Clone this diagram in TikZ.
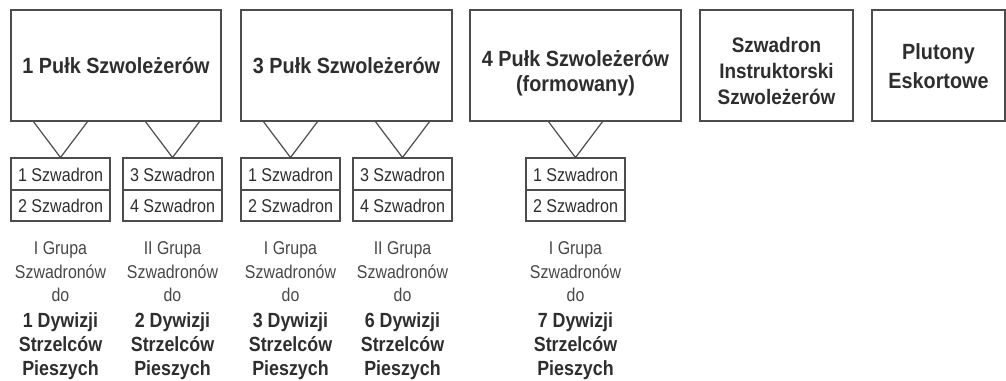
\documentclass[tikz,border=0pt]{standalone}
\usepackage{fontspec}
\setmainfont{Liberation Sans}
\newfontfamily\ttlfont[FakeStretch=0.9]{Liberation Sans}
\newfontfamily\sqfont[FakeStretch=0.87]{Liberation Sans}
\newfontfamily\grpfont[FakeStretch=0.86]{Liberation Sans}
\newfontfamily\divfont[FakeStretch=0.87]{Liberation Sans}
\begin{document}
\begin{tikzpicture}[x=1pt,y=-1pt,
  line cap=butt,
  every node/.style={text=black!82},
  regbox/.style={draw=black!70,line width=1.2pt,fill=white},
  ttl/.style={font=\ttlfont\bfseries\fontsize{22}{25}\selectfont,align=center},
  sq/.style={font=\sqfont\fontsize{18.5}{18}\selectfont,inner sep=0pt},
  link/.style={draw=black!70,line width=1.2pt},
  reg/.style={align=center,inner sep=0pt,text=black!72,font=\grpfont\fontsize{18.5}{23.5}\selectfont},
  bld/.style={align=center,inner sep=0pt,font=\divfont\bfseries\fontsize{20.5}{24}\selectfont}]
\useasboundingbox (0,0) rectangle (1006,380);
% regiment boxes
\draw[regbox] (11,10) rectangle (221,121);
\node[ttl] (p1) at (116,65.5) {1 Pułk Szwoleżerów};
\draw[regbox] (241,10) rectangle (452,121);
\node[ttl] (p3) at (346.5,65.5) {3 Pułk Szwoleżerów};
\draw[regbox] (470,10) rectangle (681,121);
\node[ttl] (p4) at (575.5,73) {4 Pułk Szwoleżerów\\(formowany)};
\draw[regbox] (700,10) rectangle (853,121);
\node[ttl,font=\ttlfont\bfseries\fontsize{21}{26}\selectfont] (si) at (776.5,71) {Szwadron\\Instruktorski\\Szwoleżerów};
\draw[regbox] (872,10) rectangle (1005,121);
\node[ttl,font=\ttlfont\bfseries\fontsize{22}{29}\selectfont] (pe) at (938.5,66) {Plutony\\Eskortowe};
% triangles and squadron boxes
\foreach \c/\a/\b/\n in {60.5/1/2/a,172.5/3/4/b,290.5/1/2/c,402.5/3/4/d,575.5/1/2/e}{
  \coordinate (t\n) at (\c,157.5);
  \draw[link] (\c-27.5,121) -- (t\n) -- (\c+27.5,121);
  \draw[regbox] (\c-49.5,158) rectangle (\c+49.5,221);
  \draw[link] (\c-49.5,190) -- (\c+49.5,190);
  \node[sq] (s\n1) at (\c,174.5) {\a\ Szwadron};
  \node[sq] (s\n2) at (\c,206) {\b\ Szwadron};
}
% group labels
\foreach \c/\g/\d/\n in {60.5/I/1/a,172.5/II/2/b,290.5/I/3/c,402.5/II/6/d,575.5/I/7/e}{
  \node[reg] (g\n) at (\c,272) {\g\ Grupa\\Szwadronów\\do};
  \node[bld] (d\n) at (\c,346) {\d\ Dywizji\\Strzelców\\Pieszych};
}
\end{tikzpicture}
\end{document}
